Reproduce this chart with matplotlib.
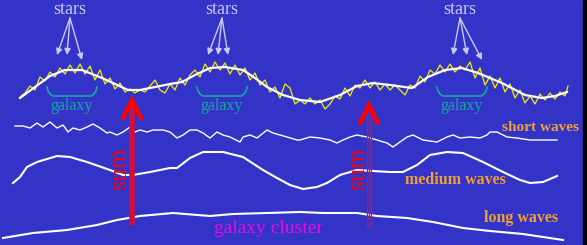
# sketch of galaxy / wave superposition diagram

import matplotlib
matplotlib.use("Agg")
import matplotlib.pyplot as plt
import numpy as np

BG = "#3333c8"

# smooth sum curve (white, top)
sum_x = [20, 35, 50, 65, 82, 102, 115, 128, 140, 155, 170, 182, 195, 210, 225, 243, 255,
         267, 283, 300, 320, 340, 357, 373, 390, 412, 428, 445, 462, 478, 502, 525, 542, 555, 567]
sum_y = [98, 87, 76, 70, 70, 78, 84, 90, 90, 87, 84, 82, 75, 68, 67, 70, 78,
         87, 95, 100, 102, 95, 86, 83, 85, 88, 77, 70, 68, 73, 83, 95, 98, 96, 92]

# noisy observed curve (yellow)
obs_x = list(range(20, 570, 5)) + [568]
obs_y = [97, 93, 86, 90, 77, 81, 72, 77, 68, 74, 65, 73, 64, 74, 66, 80, 70, 84, 78, 89,
         83, 92, 89, 93, 90, 92, 86, 80, 90, 93, 84, 90, 78, 85, 75, 70, 77, 64, 72, 62,
         70, 63, 74, 65, 75, 68, 80, 73, 85, 80, 92, 87, 98, 84, 88, 104, 100, 104, 98, 104,
         100, 109, 104, 96, 99, 88, 96, 85, 88, 80, 88, 82, 90, 84, 90, 85, 90, 95, 85, 88,
         76, 82, 70, 74, 65, 72, 64, 72, 66, 70, 62, 78, 68, 85, 76, 88, 78, 92, 84, 98,
         90, 103, 96, 104, 94, 100, 93, 99, 92, 96, 86]

# short waves
short_x = [15, 23, 30, 37, 43, 50, 57, 63, 68, 73, 80, 87, 93, 100, 107, 110, 117, 123, 130,
           135, 140, 147, 153, 163, 170, 177, 183, 190, 197, 203, 210, 217, 223, 230, 240,
           243, 250, 257, 267, 273, 280, 287, 297, 300, 310, 320, 330, 337, 343, 350, 357,
           367, 377, 387, 393, 400, 407, 413, 423, 437, 447, 453, 460, 470, 480, 487, 490,
           497, 507, 517, 530, 543, 557]
short_y = [126, 126, 128, 123, 127, 122, 128, 125, 132, 128, 130, 127, 124, 128, 133, 132,
           135, 132, 127, 132, 130, 132, 130, 130, 132, 138, 135, 130, 130, 133, 138, 132,
           135, 137, 142, 137, 135, 138, 130, 133, 135, 137, 140, 140, 137, 138, 140, 143,
           140, 137, 135, 137, 140, 143, 147, 142, 137, 135, 140, 142, 137, 135, 138, 137,
           138, 135, 132, 132, 137, 138, 140, 140, 140]

# medium waves
med_x = [13, 20, 27, 37, 57, 70, 87, 110, 123, 133, 150, 170, 177, 190, 203, 223, 243, 263,
         277, 290, 303, 317, 327, 340, 357, 373, 390, 403, 417, 430, 447, 463, 483, 503,
         520, 530, 543, 557]
med_y = [183, 177, 167, 162, 156, 157, 162, 170, 175, 175, 172, 168, 168, 158, 152, 152,
         157, 170, 178, 185, 189, 187, 183, 175, 170, 171, 172, 172, 165, 155, 152, 153,
         162, 172, 180, 183, 182, 176]

# long waves
long_x = [3, 33, 67, 97, 117, 140, 173, 210, 233, 267, 300, 323, 357, 377, 407, 433, 463,
          490, 523, 563]
long_y = [238, 233, 230, 225, 220, 216, 213, 216, 214, 213, 212, 213, 213, 216, 218, 222,
          228, 231, 234, 240]

galaxy_x = [72, 222, 462]
stars_x = [70, 222, 460]
star_tips = [[(57, 55), (67, 55), (82, 60)],
             [(208, 55), (218, 55), (228, 55)],
             [(453, 55), (467, 55), (482, 60)]]
sum_arrows = [(132, 225, 100, 120), (369, 228, 105, 358)]  # x, bottom, tip, label x

fig = plt.figure(figsize=(5.87, 2.45), dpi=100)
fig.patch.set_facecolor(BG)
ax = fig.add_axes([0, 0, 1, 1])
ax.set_facecolor(BG)
ax.set_xlim(0, 587)
ax.set_ylim(245, 0)
ax.axis("off")

# right black edge
ax.axvspan(583, 587, color="black", zorder=0)

serif = ["Liberation Serif", "DejaVu Serif"]

ax.plot(obs_x, obs_y, color="#f0f000", lw=0.9, zorder=3)
ax.plot(sum_x, sum_y, color="white", lw=1.6, zorder=4)
ax.plot(short_x, short_y, color="white", lw=1.0, zorder=3)
ax.plot(med_x, med_y, color="white", lw=1.5, zorder=3)
ax.plot(long_x, long_y, color="white", lw=1.5, zorder=3)

# galaxy brackets and labels
bx = np.array([-25, -24, -22, -19, 19, 22, 24, 25])
by = np.array([87, 91, 94, 96, 96, 94, 91, 87])
for gx in galaxy_x:
    ax.plot(gx + bx, by, color="#18a8a0", lw=1.2, zorder=5)
    ax.text(gx, 106, "galaxy", color="#18a8a0", fontsize=11.5, family=serif,
            ha="center", va="center", zorder=5)

# stars labels with arrows
for sx, tips in zip(stars_x, star_tips):
    ax.text(sx, 10, "stars", color="#c8c8f4", fontsize=13, family=serif,
            ha="center", va="center", zorder=5)
    for tx, ty in tips:
        ax.annotate("", xy=(tx, ty), xytext=(sx, 18),
                    arrowprops=dict(arrowstyle="-|>", color="#c8c8f4", lw=1.0,
                                    mutation_scale=9, shrinkA=0, shrinkB=0),
                    zorder=5)

# sum arrows
for i, (x, y0, y1, lx) in enumerate(sum_arrows):
    if i == 0:
        ax.plot([x, x], [y0, y1 + 4], color="#d0103c", lw=4, solid_capstyle="butt", zorder=6)
    else:
        for dx in (-2, 0, 2):
            ax.plot([x + dx, x + dx], [y0, y1 + 4], color="#d0103c", lw=0.9, zorder=6)
    ax.plot([x - 9, x, x + 9], [y1 + 18, y1, y1 + 18], color="#ff0000", lw=3.2,
            solid_capstyle="round", solid_joinstyle="miter", zorder=7)
    ax.text(lx, 168, "sum", color="#ff0000", fontsize=18, family=serif, rotation=90,
            ha="center", va="center", zorder=7)

ax.text(540, 127, "short waves", color="#f0a030", fontsize=11, family=serif,
        fontweight="bold", ha="center", va="center", zorder=5)
ax.text(455, 180, "medium waves", color="#f0a030", fontsize=11.5, family=serif,
        fontweight="bold", ha="center", va="center", zorder=5)
ax.text(521, 218, "long waves", color="#f0a030", fontsize=11.5, family=serif,
        fontweight="bold", ha="center", va="center", zorder=5)
ax.text(268, 228, "galaxy cluster", color="#e010e0", fontsize=14, family=serif,
        ha="center", va="center", zorder=5)

fig.savefig("out.png", dpi=100, facecolor=BG)
